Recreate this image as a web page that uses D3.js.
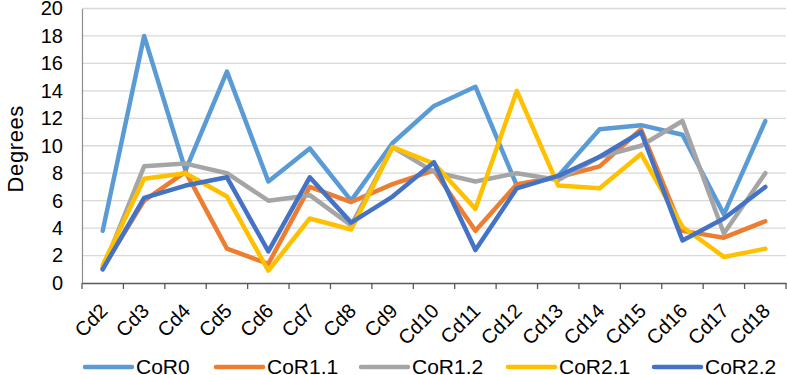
<!DOCTYPE html>
<html>
<head>
<meta charset="utf-8">
<script src="https://cdn.jsdelivr.net/npm/d3@7"></script>
<style>
  body { margin: 0; background: #fff; }
  svg { font-family: "Liberation Sans", Arial, sans-serif; }
</style>
</head>
<body>
<div id="chart"></div>
<script>
var categories = ["Cd2","Cd3","Cd4","Cd5","Cd6","Cd7","Cd8","Cd9","Cd10","Cd11","Cd12","Cd13","Cd14","Cd15","Cd16","Cd17","Cd18"];
var cor0  = [3.8, 18.0, 8.2, 15.4, 7.4, 9.8, 6.0, 10.2, 12.9, 14.3, 7.1, 7.8, 11.2, 11.5, 10.8, 5.0, 11.8];
var cor11 = [1.1, 6.0, 8.1, 2.5, 1.4, 7.0, 5.9, 7.2, 8.2, 3.8, 7.2, 7.7, 8.5, 11.2, 3.8, 3.3, 4.5];
var cor12 = [1.0, 8.5, 8.7, 8.0, 6.0, 6.4, 4.2, 9.9, 8.1, 7.4, 8.0, 7.5, 9.2, 10.0, 11.8, 3.6, 8.0];
var cor21 = [1.3, 7.6, 8.0, 6.3, 0.9, 4.7, 3.9, 9.9, 8.7, 5.4, 14.0, 7.1, 6.9, 9.4, 4.1, 1.9, 2.5];
var cor22 = [1.0, 6.2, 7.1, 7.7, 2.3, 7.7, 4.4, 6.3, 8.8, 2.4, 6.9, 7.8, 9.2, 11.0, 3.1, 4.7, 7.0];
var seriesNames = ["CoR0","CoR1.1","CoR1.2","CoR2.1","CoR2.2"];
var yTicks = [0,2,4,6,8,10,12,14,16,18,20];

var colors = ["#5B9BD5","#ED7D31","#A5A5A5","#FFC000","#4472C4"];
var series = [cor0, cor11, cor12, cor21, cor22];

var W = 787, H = 375;
var plotLeft = 82, plotRight = 786, plotTop = 8.5, plotBottom = 283;

var svg = d3.select("#chart").append("svg")
    .attr("width", W).attr("height", H);

var x = d3.scaleBand().domain(categories).range([plotLeft, plotRight]);
var y = d3.scaleLinear().domain([0, 20]).range([plotBottom, plotTop]);

// gridlines
svg.append("g")
    .selectAll("line").data(yTicks.filter(function(d) { return d > 0; }))
    .join("line")
    .attr("x1", plotLeft).attr("x2", plotRight)
    .attr("y1", function(d) { return y(d); }).attr("y2", function(d) { return y(d); })
    .attr("stroke", "#D9D9D9").attr("stroke-width", 1.3);

// y axis
var yAxis = svg.append("g")
    .attr("transform", "translate(" + plotLeft + ",0)")
    .call(d3.axisLeft(y).tickValues(yTicks).tickSize(0).tickPadding(19));
yAxis.select(".domain").attr("stroke", "#8C8C8C").attr("stroke-width", 1.2);
yAxis.selectAll("text").attr("font-size", 20).attr("fill", "#000")
    .attr("font-family", "Liberation Sans, Arial, sans-serif");

// x axis
var xAxis = svg.append("g")
    .attr("transform", "translate(0," + plotBottom + ")")
    .call(d3.axisBottom(x).tickSize(0).tickFormat(""));
xAxis.select(".domain").attr("stroke", "#595959").attr("stroke-width", 1.3);
var bounds = categories.map(function(c) { return x(c); }).concat([plotRight]);
xAxis.selectAll(".bound").data(bounds).join("line")
    .attr("class", "bound")
    .attr("x1", function(d) { return d; }).attr("x2", function(d) { return d; })
    .attr("y1", 0).attr("y2", 6)
    .attr("stroke", "#595959").attr("stroke-width", 1.3);

svg.append("g").selectAll("text").data(categories).join("text")
    .attr("transform", function(d) {
        return "translate(" + (x(d) + x.bandwidth() / 2 - 4) + "," + (plotBottom + 19) + ") rotate(-45)";
    })
    .attr("text-anchor", "end")
    .attr("dominant-baseline", "hanging")
    .attr("font-size", 20)
    .text(function(d) { return d; });

// y label
svg.append("text")
    .attr("transform", "translate(23," + (y(10) + 3) + ") rotate(-90)")
    .attr("text-anchor", "middle")
    .attr("font-size", 22)
    .attr("letter-spacing", 0.6)
    .text("Degrees");

// lines
var line = d3.line()
    .x(function(d, i) { return x(categories[i]) + x.bandwidth() / 2; })
    .y(function(d) { return y(d); });

series.forEach(function(s, i) {
    svg.append("path")
        .datum(s)
        .attr("fill", "none")
        .attr("stroke", colors[i])
        .attr("stroke-width", 4.5)
        .attr("stroke-linejoin", "round")
        .attr("stroke-linecap", "round")
        .attr("d", line);
});

// legend
var legendX = [83, 214, 359, 506, 652];
var leg = svg.append("g").selectAll("g").data(seriesNames).join("g")
    .attr("transform", function(d, i) { return "translate(" + legendX[i] + ",367)"; });
leg.append("line")
    .attr("x1", 2).attr("x2", 49).attr("y1", 0).attr("y2", 0)
    .attr("stroke", function(d, i) { return colors[i]; })
    .attr("stroke-width", 4.5)
    .attr("stroke-linecap", "round");
leg.append("text")
    .attr("x", 53).attr("y", 7)
    .attr("font-size", 21)
    .text(function(d) { return d; });
</script>
</body>
</html>
